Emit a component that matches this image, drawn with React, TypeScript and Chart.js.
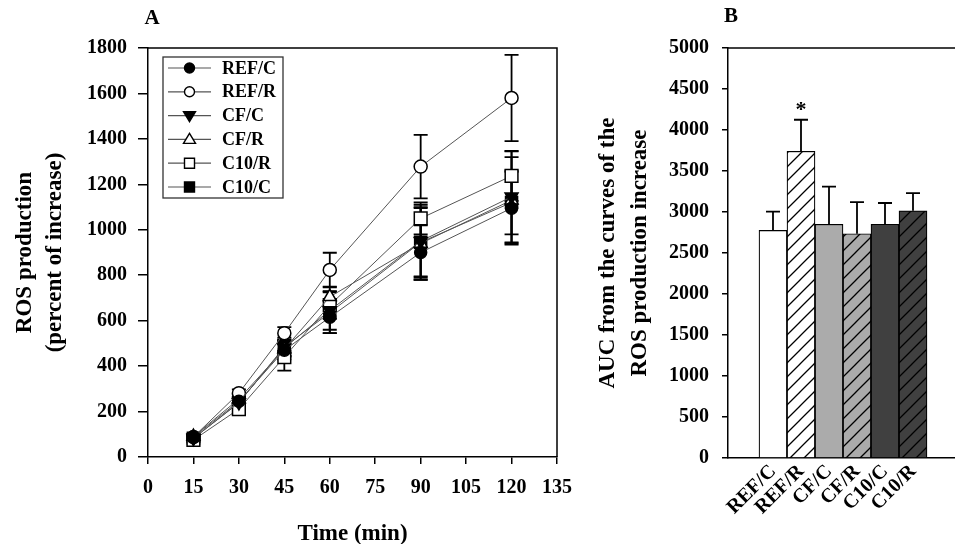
import React, { useEffect, useRef } from "react";
import { Chart, registerables } from "chart.js";

Chart.register(...registerables);

// ---------- Data: panel A (ROS production over time) ----------
const timePoints = [15, 30, 45, 60, 90, 120];
const seriesNames = ["REF/C", "REF/R", "CF/C", "CF/R", "C10/R", "C10/C"];
const refC = [88, 245, 470, 615, 900, 1095];
const refCErr = [10, 20, 40, 70, 120, 160];
const refR = [88, 281, 545, 823, 1278, 1580];
const refRErr = [10, 17, 27, 76, 140, 190];
const cfC = [82, 240, 480, 645, 950, 1145];
const cfCErr = [10, 20, 35, 85, 160, 200];
const cfR = [90, 255, 475, 705, 940, 1130];
const cfRErr = [10, 20, 35, 45, 160, 190];
const c10R = [75, 211, 440, 668, 1050, 1237];
const c10RErr = [10, 20, 60, 60, 70, 110];
const c10C = [82, 238, 485, 635, 945, 1120];
const c10CErr = [10, 20, 40, 90, 150, 140];

const xMaxA = 135;
const xStepA = 15;
const yMaxA = 1800;
const yStepA = 200;

// ---------- Data: panel B (AUC) ----------
const aucGroups = ["REF/C", "REF/R", "CF/C", "CF/R", "C10/C", "C10/R"];
const aucValues = [2775, 3740, 2850, 2735, 2850, 3015];
const aucErrors = [230, 385, 460, 385, 260, 215];
const aucSignificant = [false, true, false, false, false, false];
const yMaxB = 5000;
const yStepB = 500;

const seriesValues = [refC, refR, cfC, cfR, c10R, c10C];
const seriesErrors = [refCErr, refRErr, cfCErr, cfRErr, c10RErr, c10CErr];

// ---------- Styles ----------
const FONT = "'Liberation Serif', 'Times New Roman', serif";
const markerStyles = [
  { style: "circle", rot: 0, r: 6, fill: "#000", legend: "circle" },
  { style: "circle", rot: 0, r: 6.5, fill: "#fff", legend: "circle" },
  { style: "triangle", rot: 180, r: 7.5, fill: "#000", legend: "triDown" },
  { style: "triangle", rot: 0, r: 7.5, fill: "#fff", legend: "triUp" },
  { style: "rect", rot: 0, r: 9, fill: "#fff", legend: "rect" },
  { style: "rect", rot: 0, r: 8.5, fill: "#000", legend: "rect" },
];
const barStyles = [
  { base: "#ffffff", hatch: false },
  { base: "#ffffff", hatch: true },
  { base: "#ababab", hatch: false },
  { base: "#ababab", hatch: true },
  { base: "#404040", hatch: false },
  { base: "#404040", hatch: true },
];

function makePattern(ctx: CanvasRenderingContext2D, base: string, hatch: boolean) {
  if (!hatch) return base;
  const s = 14;
  const tile = document.createElement("canvas");
  tile.width = s;
  tile.height = s;
  const t = tile.getContext("2d")!;
  t.fillStyle = base;
  t.fillRect(0, 0, s, s);
  t.strokeStyle = "#000";
  t.lineWidth = 1.3;
  t.beginPath();
  t.moveTo(0, s);
  t.lineTo(s, 0);
  t.moveTo(-s / 2, s / 2);
  t.lineTo(s / 2, -s / 2);
  t.moveTo(s / 2, s * 1.5);
  t.lineTo(s * 1.5, s / 2);
  t.stroke();
  return ctx.createPattern(tile, "repeat") as CanvasPattern;
}

function drawLegendMarker(ctx: CanvasRenderingContext2D, kind: string, x: number, y: number, fill: string) {
  ctx.beginPath();
  if (kind === "circle") {
    ctx.arc(x, y, 5, 0, Math.PI * 2);
  } else if (kind === "triDown") {
    ctx.moveTo(x - 6, y - 4);
    ctx.lineTo(x + 6, y - 4);
    ctx.lineTo(x, y + 6);
    ctx.closePath();
  } else if (kind === "triUp") {
    ctx.moveTo(x - 6, y + 4);
    ctx.lineTo(x + 6, y + 4);
    ctx.lineTo(x, y - 6);
    ctx.closePath();
  } else {
    ctx.rect(x - 5, y - 5, 10, 10);
  }
  ctx.fillStyle = fill;
  ctx.fill();
  ctx.lineWidth = 1.4;
  ctx.strokeStyle = "#000";
  ctx.stroke();
}

const panelAPlugin = {
  id: "panelA",
  beforeDatasetsDraw(chart: any) {
    const ctx = chart.ctx as CanvasRenderingContext2D;
    const ys = chart.scales.y;
    ctx.save();
    ctx.strokeStyle = "#000";
    ctx.lineWidth = 1.8;
    chart.data.datasets.forEach((_: any, di: number) => {
      const meta = chart.getDatasetMeta(di);
      meta.data.forEach((pt: any, i: number) => {
        const v = seriesValues[di][i];
        const e = seriesErrors[di][i];
        const yt = ys.getPixelForValue(v + e);
        const yb = ys.getPixelForValue(v - e);
        const x = pt.x;
        ctx.beginPath();
        ctx.moveTo(x, yt);
        ctx.lineTo(x, yb);
        ctx.moveTo(x - 7, yt);
        ctx.lineTo(x + 7, yt);
        ctx.moveTo(x - 7, yb);
        ctx.lineTo(x + 7, yb);
        ctx.stroke();
      });
    });
    ctx.restore();
  },
  afterDraw(chart: any) {
    const ctx = chart.ctx as CanvasRenderingContext2D;
    const a = chart.chartArea;
    ctx.save();
    // top and right frame
    ctx.strokeStyle = "#000";
    ctx.lineWidth = 1.5;
    ctx.beginPath();
    ctx.moveTo(a.left, a.top);
    ctx.lineTo(a.right, a.top);
    ctx.lineTo(a.right, a.bottom);
    ctx.stroke();
    // legend
    const lx = 163, ly = 57, lw = 120, lh = 141;
    ctx.fillStyle = "#fff";
    ctx.fillRect(lx, ly, lw, lh);
    ctx.strokeStyle = "#333";
    ctx.lineWidth = 1.3;
    ctx.strokeRect(lx, ly, lw, lh);
    seriesNames.forEach((name, i) => {
      const y = 68 + i * 23.8;
      ctx.strokeStyle = "#555";
      ctx.lineWidth = 1.2;
      ctx.beginPath();
      ctx.moveTo(168, y);
      ctx.lineTo(211, y);
      ctx.stroke();
      drawLegendMarker(ctx, markerStyles[i].legend, 189.5, y, markerStyles[i].fill);
      ctx.fillStyle = "#000";
      ctx.font = `bold 18px ${FONT}`;
      ctx.textAlign = "left";
      ctx.textBaseline = "middle";
      ctx.fillText(name, 222, y + 1);
    });
    // panel letter
    ctx.fillStyle = "#000";
    ctx.font = `bold 21px ${FONT}`;
    ctx.textAlign = "center";
    ctx.textBaseline = "middle";
    ctx.fillText("A", 152, 19);
    ctx.restore();
  },
};

const panelBPlugin = {
  id: "panelB",
  afterDatasetsDraw(chart: any) {
    const ctx = chart.ctx as CanvasRenderingContext2D;
    const ys = chart.scales.y;
    const meta = chart.getDatasetMeta(0);
    ctx.save();
    ctx.strokeStyle = "#000";
    ctx.lineWidth = 1.8;
    meta.data.forEach((bar: any, i: number) => {
      const x = bar.x;
      const y0 = ys.getPixelForValue(aucValues[i]);
      const y1 = ys.getPixelForValue(aucValues[i] + aucErrors[i]);
      ctx.beginPath();
      ctx.moveTo(x, y0);
      ctx.lineTo(x, y1);
      ctx.moveTo(x - 7, y1);
      ctx.lineTo(x + 7, y1);
      ctx.stroke();
      if (aucSignificant[i]) {
        ctx.fillStyle = "#000";
        ctx.font = `bold 22px ${FONT}`;
        ctx.textAlign = "center";
        ctx.textBaseline = "alphabetic";
        ctx.fillText("*", x, y1 - 4);
      }
    });
    ctx.restore();
  },
  afterDraw(chart: any) {
    const ctx = chart.ctx as CanvasRenderingContext2D;
    const a = chart.chartArea;
    ctx.save();
    ctx.strokeStyle = "#000";
    ctx.lineWidth = 1.5;
    ctx.beginPath();
    ctx.moveTo(a.left, a.top);
    ctx.lineTo(a.right, a.top);
    ctx.stroke();
    ctx.fillStyle = "#000";
    ctx.font = `bold 21px ${FONT}`;
    ctx.textAlign = "center";
    ctx.textBaseline = "middle";
    ctx.fillText("B", 141, 17);
    ctx.restore();
  },
};

const plainNumber = (v: any) => String(v);

export default function App() {
  const refA = useRef<HTMLCanvasElement>(null);
  const refB = useRef<HTMLCanvasElement>(null);

  useEffect(() => {
    Chart.defaults.font.family = FONT;
    Chart.defaults.color = "#000";
    const tickFont = { family: FONT, size: 20, weight: "bold" as const };
    const titleFont = { family: FONT, size: 23, weight: "bold" as const };

    const chartA = new Chart(refA.current!, {
      type: "line",
      data: {
        datasets: seriesNames.map((name, si) => ({
          label: name,
          data: timePoints.map((t, i) => ({ x: t, y: seriesValues[si][i] })),
          borderColor: "#555",
          borderWidth: 1,
          pointStyle: markerStyles[si].style as any,
          rotation: markerStyles[si].rot,
          pointRotation: markerStyles[si].rot,
          pointRadius: markerStyles[si].r,
          pointBackgroundColor: markerStyles[si].fill,
          pointBorderColor: "#000",
          pointBorderWidth: 1.5,
          tension: 0,
          fill: false,
        })),
      },
      options: {
        responsive: false,
        animation: false,
        devicePixelRatio: 1,
        layout: { padding: { top: 48, right: 33, left: 0, bottom: 0 } },
        plugins: { legend: { display: false }, tooltip: { enabled: false }, title: { display: false } },
        scales: {
          x: {
            type: "linear",
            min: 0,
            max: xMaxA,
            afterFit: (s: any) => { s.height = 87; },
            ticks: { stepSize: xStepA, font: tickFont, color: "#000", padding: 12, maxRotation: 0, callback: plainNumber },
            grid: { drawOnChartArea: false, drawTicks: true, tickLength: 7, color: "#000", lineWidth: 1.5 },
            border: { display: true, color: "#000", width: 1.5 },
            title: {
              display: true,
              text: "Time (min)",
              font: { ...titleFont, lineHeight: 1 },
              color: "#000",
              padding: { top: 0, bottom: -1.5 },
            },
          },
          y: {
            type: "linear",
            min: 0,
            max: yMaxA,
            afterFit: (s: any) => { s.width = 148; },
            ticks: { stepSize: yStepA, font: tickFont, color: "#000", padding: 11, callback: plainNumber },
            grid: { drawOnChartArea: false, drawTicks: true, tickLength: 10, color: "#000", lineWidth: 1.5 },
            border: { display: true, color: "#000", width: 1.5 },
            title: {
              display: true,
              text: ["ROS production", "(percent of increase)"],
              font: { ...titleFont, lineHeight: 1.3 },
              color: "#000",
              padding: { top: 10, bottom: 0 },
            },
          },
        },
      },
      plugins: [panelAPlugin],
    } as any);

    const ctxB = refB.current!.getContext("2d")!;
    const patterns = barStyles.map((b) => makePattern(ctxB, b.base, b.hatch));

    const chartB = new Chart(refB.current!, {
      type: "bar",
      data: {
        datasets: [
          {
            label: "AUC",
            data: aucValues.map((v, i) => ({ x: i + 1, y: v })),
            backgroundColor: patterns as any,
            borderColor: "#000",
            borderWidth: 1.2,
            barPercentage: 1,
            categoryPercentage: 1,
          },
        ],
      },
      options: {
        responsive: false,
        animation: false,
        devicePixelRatio: 1,
        layout: { padding: { top: 48, right: 0, left: 0, bottom: 0 } },
        plugins: { legend: { display: false }, tooltip: { enabled: false }, title: { display: false } },
        scales: {
          x: {
            type: "linear",
            min: -0.607,
            max: 7.5,
            offset: false,
            afterFit: (s: any) => { s.height = 86; },
            afterBuildTicks: (axis: any) => {
              axis.ticks = aucGroups.map((_, i) => ({ value: i + 1 }));
            },
            ticks: {
              font: tickFont,
              color: "#000",
              padding: 2,
              autoSkip: false,
              minRotation: 45,
              maxRotation: 45,
              callback: (value: any) => aucGroups[Number(value) - 1] ?? "",
            },
            grid: { display: false, drawTicks: false, drawOnChartArea: false },
            border: { display: true, color: "#000", width: 1.5 },
          },
          y: {
            type: "linear",
            min: 0,
            max: yMaxB,
            afterFit: (s: any) => { s.width = 138; },
            ticks: { stepSize: yStepB, font: tickFont, color: "#000", padding: 13, callback: plainNumber },
            grid: { drawOnChartArea: false, drawTicks: true, tickLength: 6, color: "#000", lineWidth: 1.5 },
            border: { display: true, color: "#000", width: 1.5 },
            title: {
              display: true,
              text: ["AUC from the curves of the", "ROS production increase"],
              font: { ...titleFont, lineHeight: 1.39 },
              color: "#000",
              padding: { top: 2, bottom: 0 },
            },
          },
        },
      },
      plugins: [panelBPlugin],
    } as any);

    return () => {
      chartA.destroy();
      chartB.destroy();
    };
  }, []);

  return (
    <div
      style={{
        position: "absolute",
        left: 0,
        top: 0,
        width: 955,
        height: 544,
        background: "#fff",
        overflow: "hidden",
      }}
    >
      <canvas ref={refA} width={590} height={544} style={{ position: "absolute", left: 0, top: 0 }} />
      <canvas ref={refB} width={365} height={544} style={{ position: "absolute", left: 590, top: 0 }} />
    </div>
  );
}
